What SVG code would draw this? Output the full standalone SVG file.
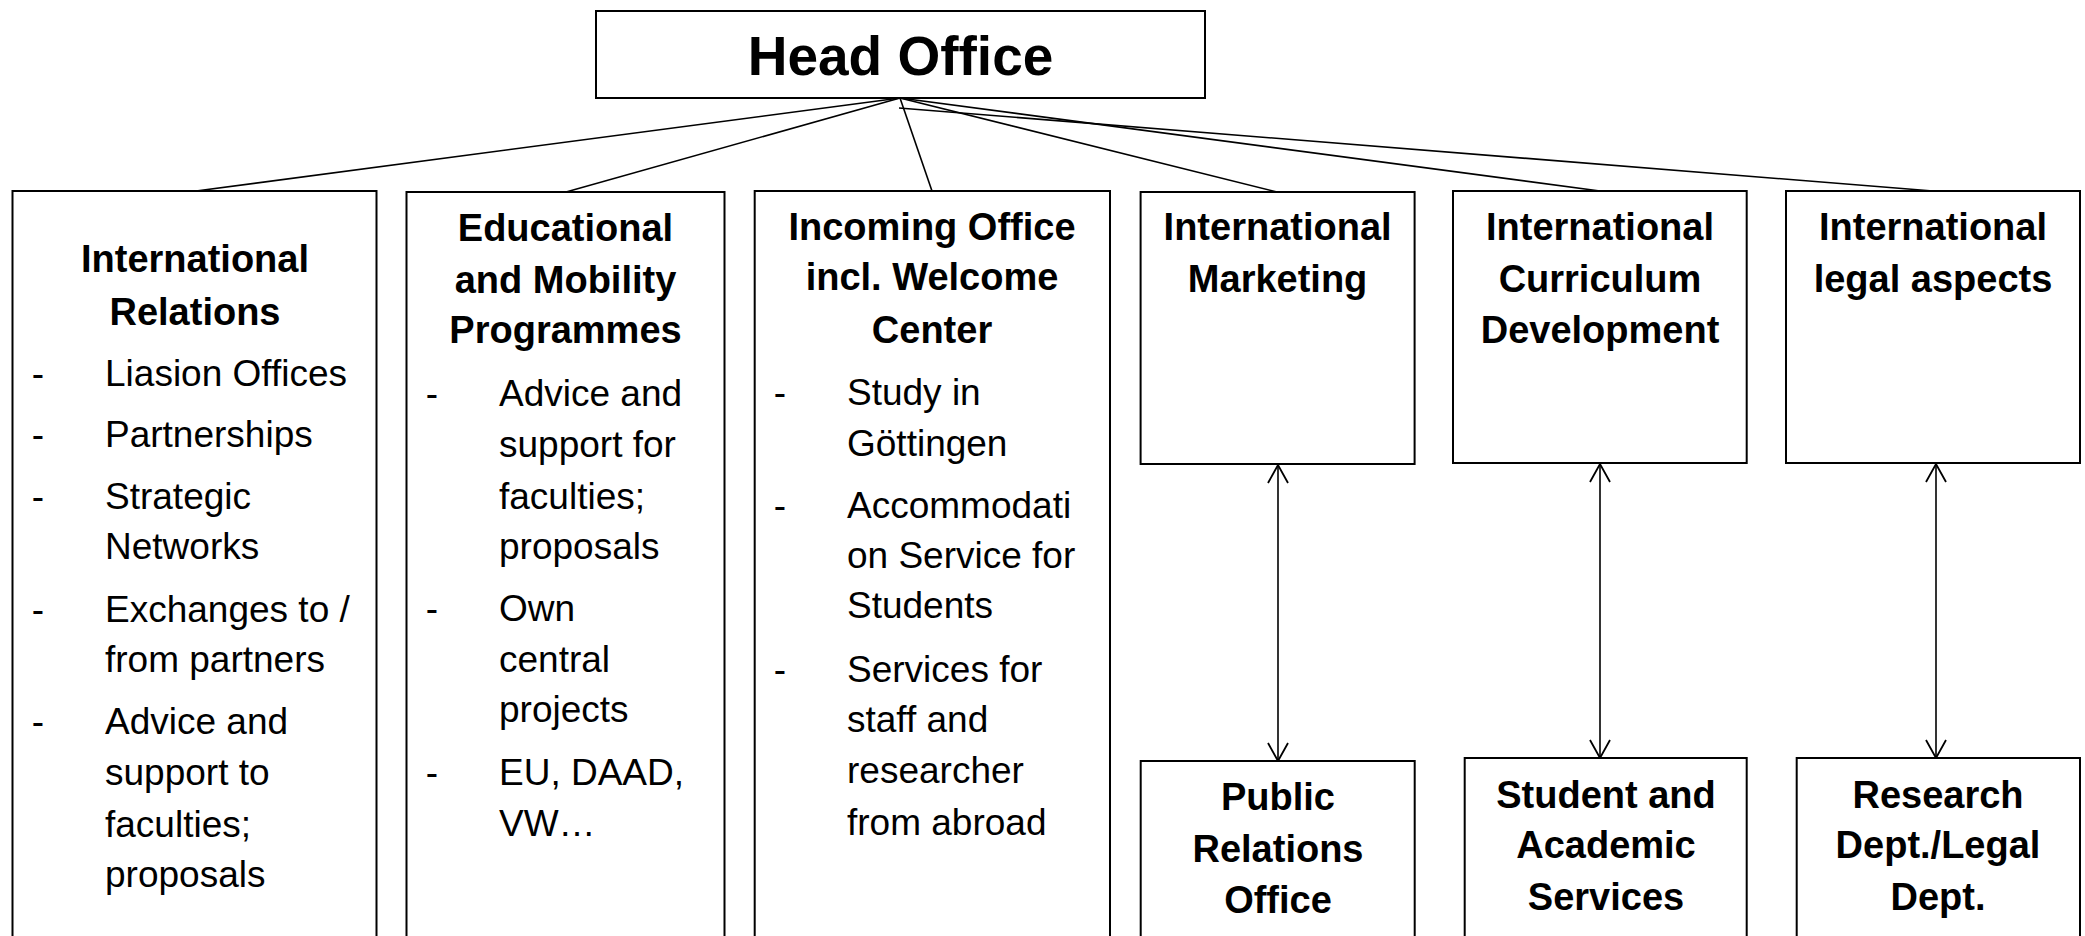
<svg xmlns="http://www.w3.org/2000/svg" width="2085" height="936" viewBox="0 0 2085 936">
<style>
  .box { fill: #ffffff; stroke: #000000; stroke-width: 2; }
  .conn { stroke: #000000; stroke-width: 1.6; fill: none; }
  .t { font-family: "Liberation Sans", Arial, sans-serif; fill: #000000; }
  .h { font-size: 55px; font-weight: bold; text-anchor: middle; }
  .b { font-size: 38px; font-weight: bold; text-anchor: middle; }
  .r { font-size: 37px; }
  .d { font-size: 37px; text-anchor: middle; }
</style>
<defs>
  <marker id="arr" viewBox="0 0 20 24" refX="19" refY="12" markerWidth="20" markerHeight="24" markerUnits="userSpaceOnUse" orient="auto-start-reverse">
    <path d="M1,2 L19,12 L1,22" fill="none" stroke="#000000" stroke-width="1.8"/>
  </marker>
</defs>
<rect width="2085" height="936" fill="#ffffff"/>

<g id="connectors">
  <line class="conn" x1="900" y1="98" x2="196" y2="191"/>
  <line class="conn" x1="900" y1="98" x2="566" y2="192"/>
  <line class="conn" x1="900" y1="98" x2="932" y2="191"/>
  <line class="conn" x1="900" y1="98" x2="1277" y2="192"/>
  <line class="conn" x1="900" y1="98" x2="1600" y2="191"/>
  <line class="conn" x1="899" y1="108" x2="1933" y2="191"/>
  <line class="conn" x1="1278" y1="465" x2="1278" y2="761" marker-start="url(#arr)" marker-end="url(#arr)"/>
  <line class="conn" x1="1600" y1="464" x2="1600" y2="758" marker-start="url(#arr)" marker-end="url(#arr)"/>
  <line class="conn" x1="1936" y1="464" x2="1936" y2="758" marker-start="url(#arr)" marker-end="url(#arr)"/>
</g>

<g id="head-office">
  <rect class="box" x="596" y="11" width="609" height="87"/>
  <text class="t h" x="900.5" y="75">Head Office</text>
</g>

<g id="international-relations">
  <rect class="box" x="12.5" y="191" width="364" height="760"/>
  <text class="t b" x="195" y="272">International</text>
  <text class="t b" x="195" y="325">Relations</text>
  <text class="t d" x="38" y="386">-</text>
  <text class="t r" x="105" y="386">Liasion Offices</text>
  <text class="t d" x="38" y="447">-</text>
  <text class="t r" x="105" y="447">Partnerships</text>
  <text class="t d" x="38" y="509">-</text>
  <text class="t r" x="105" y="509">Strategic</text>
  <text class="t r" x="105" y="559">Networks</text>
  <text class="t d" x="38" y="622">-</text>
  <text class="t r" x="105" y="622">Exchanges to /</text>
  <text class="t r" x="105" y="672">from partners</text>
  <text class="t d" x="38" y="734">-</text>
  <text class="t r" x="105" y="734">Advice and</text>
  <text class="t r" x="105" y="785">support to</text>
  <text class="t r" x="105" y="837">faculties;</text>
  <text class="t r" x="105" y="887">proposals</text>
</g>

<g id="educational-mobility">
  <rect class="box" x="406.5" y="192" width="318" height="760"/>
  <text class="t b" x="565.5" y="241">Educational</text>
  <text class="t b" x="565.5" y="293">and Mobility</text>
  <text class="t b" x="565.5" y="343">Programmes</text>
  <text class="t d" x="432" y="406">-</text>
  <text class="t r" x="499" y="406">Advice and</text>
  <text class="t r" x="499" y="457">support for</text>
  <text class="t r" x="499" y="509">faculties;</text>
  <text class="t r" x="499" y="559">proposals</text>
  <text class="t d" x="432" y="621">-</text>
  <text class="t r" x="499" y="621">Own</text>
  <text class="t r" x="499" y="672">central</text>
  <text class="t r" x="499" y="722">projects</text>
  <text class="t d" x="432" y="785">-</text>
  <text class="t r" x="499" y="785">EU, DAAD,</text>
  <text class="t r" x="499" y="836">VW…</text>
</g>

<g id="incoming-office">
  <rect class="box" x="754.7" y="191" width="355.3" height="760"/>
  <text class="t b" x="932" y="240">Incoming Office</text>
  <text class="t b" x="932" y="290">incl. Welcome</text>
  <text class="t b" x="932" y="343">Center</text>
  <text class="t d" x="780" y="405">-</text>
  <text class="t r" x="847" y="405">Study in</text>
  <text class="t r" x="847" y="456">Göttingen</text>
  <text class="t d" x="780" y="518">-</text>
  <text class="t r" x="847" y="518">Accommodati</text>
  <text class="t r" x="847" y="568">on Service for</text>
  <text class="t r" x="847" y="618">Students</text>
  <text class="t d" x="780" y="682">-</text>
  <text class="t r" x="847" y="682">Services for</text>
  <text class="t r" x="847" y="732">staff and</text>
  <text class="t r" x="847" y="783">researcher</text>
  <text class="t r" x="847" y="835">from abroad</text>
</g>

<g id="international-marketing">
  <rect class="box" x="1140.6" y="192" width="274" height="272"/>
  <text class="t b" x="1277.6" y="240">International</text>
  <text class="t b" x="1277.6" y="292">Marketing</text>
</g>

<g id="international-curriculum">
  <rect class="box" x="1453" y="191" width="293.7" height="272"/>
  <text class="t b" x="1600" y="240">International</text>
  <text class="t b" x="1600" y="292">Curriculum</text>
  <text class="t b" x="1600" y="343">Development</text>
</g>

<g id="international-legal">
  <rect class="box" x="1786" y="191" width="294" height="272"/>
  <text class="t b" x="1933" y="240">International</text>
  <text class="t b" x="1933" y="292">legal aspects</text>
</g>

<g id="public-relations">
  <rect class="box" x="1140.7" y="761" width="274" height="190"/>
  <text class="t b" x="1278" y="810">Public</text>
  <text class="t b" x="1278" y="862">Relations</text>
  <text class="t b" x="1278" y="913">Office</text>
</g>

<g id="student-academic">
  <rect class="box" x="1464.7" y="758" width="282" height="193"/>
  <text class="t b" x="1606" y="808">Student and</text>
  <text class="t b" x="1606" y="858">Academic</text>
  <text class="t b" x="1606" y="910">Services</text>
</g>

<g id="research-legal">
  <rect class="box" x="1796.7" y="758" width="283.3" height="193"/>
  <text class="t b" x="1938" y="808">Research</text>
  <text class="t b" x="1938" y="858">Dept./Legal</text>
  <text class="t b" x="1938" y="910">Dept.</text>
</g>
</svg>
